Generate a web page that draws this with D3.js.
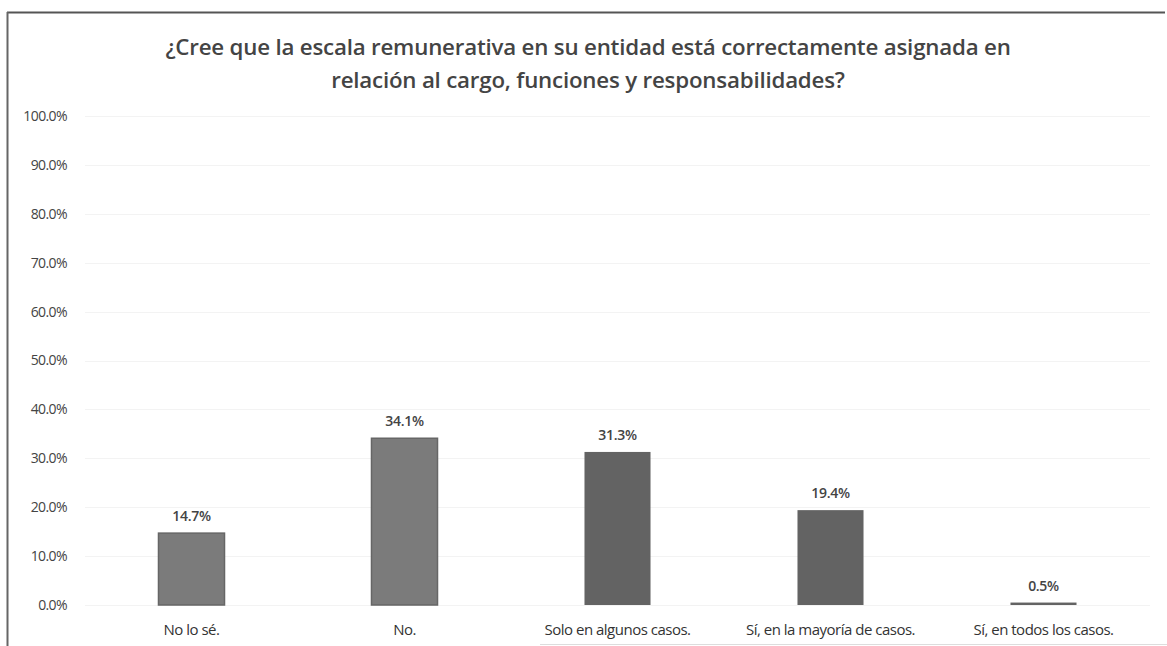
<!DOCTYPE html>
<html>
<head>
<meta charset="utf-8">
<script src="https://cdn.jsdelivr.net/npm/d3@7"></script>
<style>
  body { margin: 0; background: #fff; }
  text { font-family: "Open Sans", "Noto Sans", sans-serif; }
</style>
</head>
<body>
<div id="container"></div>
<script>
const categories = ["No lo sé.", "No.", "Solo en algunos casos.", "Sí, en la mayoría de casos.", "Sí, en todos los casos."];
const values = [14.7, 34.1, 31.3, 19.4, 0.5];
const yTicks = [0, 10, 20, 30, 40, 50, 60, 70, 80, 90, 100];
const titleLines = [
  "¿Cree que la escala remunerativa en su entidad está correctamente asignada en",
  "relación al cargo, funciones y responsabilidades?"
];

const width = 1167;
const height = 646;
const marginTop = 116;
const marginRight = 17;
const marginBottom = 41;
const marginLeft = 85;

const svg = d3.select("#container").append("svg")
  .attr("width", width)
  .attr("height", height);

// chart frame (scan is cut at the bottom/right)
svg.append("line")
  .attr("x1", 7).attr("x2", 1165).attr("y1", 12.5).attr("y2", 12.5)
  .attr("stroke", "#555").attr("stroke-width", 2);
svg.append("line")
  .attr("x1", 7.5).attr("x2", 7.5).attr("y1", 12).attr("y2", height)
  .attr("stroke", "#666").attr("stroke-width", 2);
svg.append("line")
  .attr("x1", 540).attr("x2", 1167).attr("y1", 644.5).attr("y2", 644.5)
  .attr("stroke", "#ddd").attr("stroke-width", 1);

const x = d3.scaleBand()
  .domain(categories)
  .range([marginLeft, width - marginRight])
  .paddingInner(0.69)
  .paddingOuter(0.345);

const y = d3.scaleLinear()
  .domain([0, 100])
  .range([height - marginBottom, marginTop]);

// gridlines
svg.append("g")
  .selectAll("line")
  .data(yTicks)
  .join("line")
  .attr("x1", marginLeft)
  .attr("x2", width - marginRight)
  .attr("y1", d => Math.round(y(d)) + 0.5)
  .attr("y2", d => Math.round(y(d)) + 0.5)
  .attr("stroke", "#f3f3f3");

// y axis labels
const yAxis = svg.append("g")
  .attr("transform", `translate(${marginLeft - 15},0)`)
  .call(d3.axisLeft(y).tickValues(yTicks).tickSize(0).tickFormat(d => d.toFixed(1) + "%"));
yAxis.select(".domain").remove();
yAxis.selectAll("text")
  .attr("fill", "#444")
  .attr("font-size", 14)
  .attr("letter-spacing", "-0.6px");

// x axis labels
const xAxis = svg.append("g")
  .attr("transform", `translate(0,${height - marginBottom})`)
  .call(d3.axisBottom(x).tickSize(0).tickPadding(19));
xAxis.select(".domain").remove();
xAxis.selectAll("text")
  .attr("fill", "#333")
  .attr("font-size", 15)
  .attr("letter-spacing", "-0.5px");

// bars
svg.append("g")
  .selectAll("rect")
  .data(values)
  .join("rect")
  .attr("x", (d, i) => x(categories[i]))
  .attr("y", d => y(d))
  .attr("width", x.bandwidth())
  .attr("height", d => y(0) - y(d))
  .attr("fill", (d, i) => i < 2 ? "#7b7b7b" : "#636363")
  .attr("stroke", (d, i) => i < 2 ? "#666" : "none")
  .attr("stroke-width", 1.5);

// data labels
svg.append("g")
  .selectAll("text")
  .data(values)
  .join("text")
  .attr("x", (d, i) => x(categories[i]) + x.bandwidth() / 2)
  .attr("y", d => y(d) - 12)
  .attr("text-anchor", "middle")
  .attr("font-size", 14)
  .attr("font-weight", 600)
  .attr("letter-spacing", "-0.3px")
  .attr("fill", "#444")
  .text(d => d.toFixed(1) + "%");

// title
svg.append("g")
  .selectAll("text")
  .data(titleLines)
  .join("text")
  .attr("x", 588)
  .attr("y", (d, i) => 55 + i * 33)
  .attr("text-anchor", "middle")
  .attr("font-size", 22.3)
  .attr("font-weight", 600)
  .attr("letter-spacing", "-0.2px")
  .attr("fill", "#444")
  .text(d => d);
</script>
</body>
</html>
